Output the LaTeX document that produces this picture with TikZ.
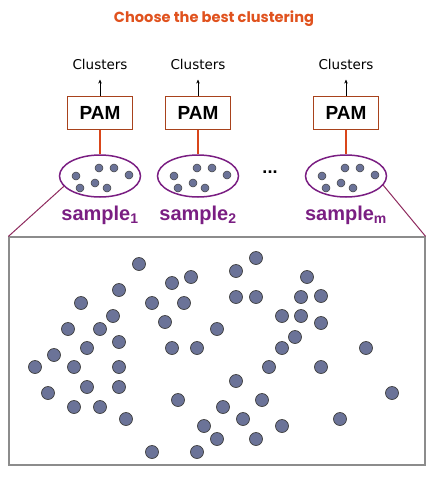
\documentclass[tikz,border=0pt]{standalone}
\usepackage{fontspec}
\setmainfont{Liberation Sans}
\newfontfamily\vera{DejaVu Sans}
\newfontfamily\geo{Poppins}
\usepackage{tikz}
\usetikzlibrary{shapes.geometric, arrows.meta, positioning}

\definecolor{titlered}{HTML}{E0521E}
\definecolor{pambrown}{HTML}{A8421C}
\definecolor{linkred}{HTML}{D9461A}
\definecolor{samppurple}{HTML}{7A1E82}
\definecolor{edgemaroon}{HTML}{8E2A5E}
\definecolor{dotblue}{HTML}{6B7398}

\tikzset{
	pam/.style={draw=pambrown, line width=1.7pt, minimum width=65pt, minimum height=33pt, inner sep=0pt, font=\bfseries\fontsize{19}{19}\selectfont},
	samp/.style={ellipse, draw=samppurple, line width=1.5pt, minimum width=81pt, minimum height=42pt, inner sep=0pt},
	samplabel/.style={text=samppurple, font=\bfseries\fontsize{20}{20}\selectfont, inner sep=0pt},
	clabel/.style={font=\vera\fontsize{13.5}{13.5}\selectfont, inner sep=1pt},
	pt/.style={fill=dotblue, draw=black!75, line width=0.7pt},
}

\begin{document}
\begin{tikzpicture}[x=1pt, y=-1pt]
	\useasboundingbox (0,0) rectangle (434,480);
	\node[text=titlered, font=\geo\bfseries\fontsize{14.6}{14.6}\selectfont] (title) at (214,19) {Choose the best clustering};

	% the samples, each run through PAM
	\foreach \i/\x/\lab in {1/100/1, 2/198/2, 3/346/m} {
			\node[samp] (s\i) at (\x,176) {};
			\node[pam, above=24pt of s\i] (pam\i) {PAM};
			\node[clabel, above=25pt of pam\i] (c\i) {Clusters};
			\node[samplabel, below=8pt of s\i] (l\i) {sample\textsubscript{\lab}};
			\draw[linkred, line width=1.3pt] (pam\i) -- (s\i);
			\draw[-{Stealth[length=4pt,width=3.5pt]}, line width=0.6pt] (pam\i) -- ([yshift=-9pt]c\i.south);
			\foreach \dx/\dy in {-24/0, -1/-8, 14/-8, 29/-1, -20/12, -5/7, 7/12}
				\filldraw[pt, line width=0.5pt] ([shift={(\dx,\dy)}]s\i) circle (4);
		}
	\node[font=\bfseries\fontsize{18}{18}\selectfont] (dots) at (270,172) {...};

	% the whole data set
	\node[draw=black!45, line width=1.2pt, minimum width=416pt, minimum height=228pt, inner sep=0pt] (pop) at (217,351) {};
	\draw[edgemaroon, line width=1pt] (s1.196) -- (pop.north west);
	\draw[edgemaroon, line width=1pt] (s3.-14) -- (pop.north east);
	\foreach \x/\y in {139/264, 256/258, 236/271, 191/277, 172/283, 307/277, 119/290,
			81/303, 152/303, 184/303, 236/297, 256/297, 301/297, 321/296, 113/316,
			68/329, 100/329, 165/322, 217/329, 282/316, 301/316, 321/323, 295/337,
			119/342, 87/348, 54/355, 172/348, 197/348, 282/348, 366/348, 35/367,
			74/367, 119/367, 269/367, 321/367, 236/381, 87/387, 119/387, 48/393,
			392/393, 178/400, 262/400, 223/407, 74/407, 100/407, 126/419, 243/419,
			340/419, 204/426, 282/426, 217/439, 256/439, 152/452, 197/452}
		\filldraw[pt] (\x,\y) circle (6.5);
\end{tikzpicture}
\end{document}
